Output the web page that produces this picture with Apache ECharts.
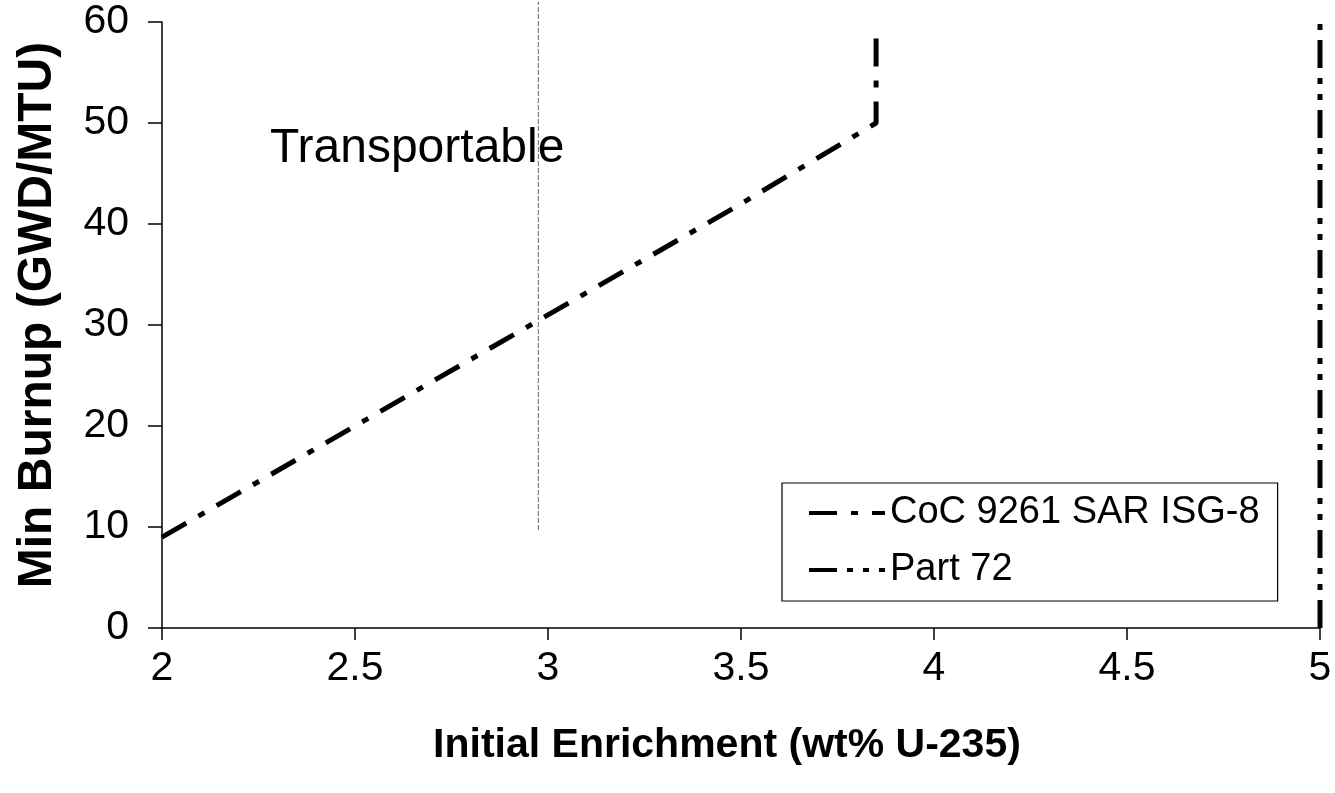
<!DOCTYPE html>
<html>
<head>
<meta charset="utf-8">
<script src="https://cdn.jsdelivr.net/npm/echarts@6/dist/echarts.min.js"></script>
<style>
html,body{margin:0;padding:0;background:#fff;}
#chart{width:1335px;height:793px;}
</style>
</head>
<body>
<div id="chart"></div>
<script>
// Data
var cocSeriesName = 'CoC 9261 SAR ISG-8';
var cocX = [2.0, 2.5, 3.0, 3.5, 3.85, 3.85];
var cocY = [9.0, 20.0, 31.0, 42.0, 50.0, 59.0];
var part72Name = 'Part 72';
var part72X = [5.0, 5.0];
var part72Y = [0, 60];
var faintX = [2.975, 2.975];
var faintY = [9.7, 62];
var xTicks = [2, 2.5, 3, 3.5, 4, 4.5, 5];
var yTicks = [0, 10, 20, 30, 40, 50, 60];
var annotationText = 'Transportable';

function pairs(xs, ys){ return xs.map(function(x,i){ return [x, ys[i]]; }); }

var chart = echarts.init(document.getElementById('chart'), null, {renderer:'canvas'});
var font = 'Liberation Sans, Arial, sans-serif';
chart.setOption({
  animation:false,
  backgroundColor:'#fff',
  grid:{left:162, right:15, top:22, bottom:165, containLabel:false},
  xAxis:{
    type:'value', min:xTicks[0], max:xTicks[xTicks.length-1], interval:0.5,
    name:'Initial Enrichment (wt% U-235)', nameLocation:'middle', nameGap:97,
    nameTextStyle:{fontFamily:font, fontSize:41, fontWeight:'bold', color:'#000', padding:[0,28,0,0]},
    axisLine:{show:true, lineStyle:{color:'#000', width:1.5}},
    axisTick:{show:true, length:12, lineStyle:{color:'#000', width:1.5}},
    axisLabel:{fontFamily:font, fontSize:41, color:'#000', margin:20},
    splitLine:{show:false}
  },
  yAxis:{
    type:'value', min:yTicks[0], max:yTicks[yTicks.length-1], interval:10,
    name:'Min Burnup (GWD/MTU)', nameLocation:'middle', nameGap:100,
    nameTextStyle:{fontFamily:font, fontSize:48, fontWeight:'bold', color:'#000', padding:[0,0,0,20]},
    axisLine:{show:true, lineStyle:{color:'#000', width:1.5}},
    axisTick:{show:true, inside:false, length:14, lineStyle:{color:'#000', width:1.5}},
    axisLabel:{fontFamily:font, fontSize:41, color:'#000', margin:33},
    splitLine:{show:false}
  },
  legend:{
    data:[cocSeriesName, part72Name],
    orient:'vertical', left:782, top:483,
    backgroundColor:'#fff', borderColor:'#000', borderWidth:1.2, borderRadius:0,
    padding:[11,18,12,25], itemGap:19, itemWidth:76, itemHeight:20,
    itemStyle:{color:'rgba(0,0,0,0)', borderWidth:0, opacity:0},
    lineStyle:{color:'#000', width:4},
    textStyle:{fontFamily:font, fontSize:38, color:'#000'}
  },
  series:[
    {
      name:'faint', type:'line', data:pairs(faintX, faintY), symbol:'none', silent:true, clip:false,
      color:'#666', lineStyle:{color:'#666', width:1, type:[5,2]}, z:1
    },
    {
      name:cocSeriesName, type:'line', data:pairs(cocX, cocY), symbol:'none', color:'#000',
      lineStyle:{color:'#000', width:5, type:[28,14,7,14]}, z:3
    },
    {
      name:part72Name, type:'line', data:pairs(part72X, part72Y), symbol:'none', clip:false, color:'#000',
      lineStyle:{color:'#000', width:5, type:[28,10,6,10,6,10]}, z:3
    }
  ],
  graphic:[
    {type:'text', left:270, top:125, style:{text:annotationText, font:'48px Liberation Sans, Arial, sans-serif', fill:'#000'}}
  ]
});
</script>
</body>
</html>
